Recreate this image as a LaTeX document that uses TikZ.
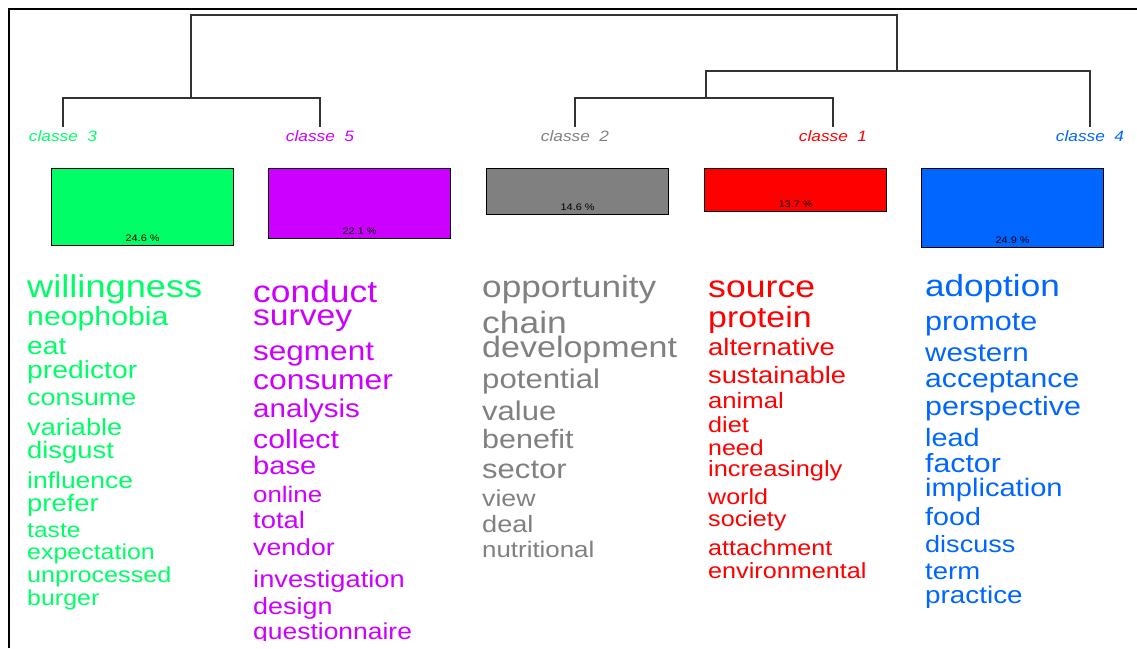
\documentclass[tikz,border=0pt]{standalone}
\usepackage{fontspec}
\usepackage{tikz}
\usetikzlibrary{positioning}
\usepackage{xcolor}
\newfontfamily\cloud{Liberation Sans}[FakeStretch=1.15]
\definecolor{classe1}{HTML}{FF0000}
\definecolor{classe2}{HTML}{808080}
\definecolor{classe3}{HTML}{00FF66}
\definecolor{classe4}{HTML}{0066FF}
\definecolor{classe5}{HTML}{CC00FF}

\begin{document}
\begin{tikzpicture}[
    x=1pt, y=-1pt,
    every node/.style={font=\cloud},
    leaf/.style={anchor=base, inner xsep=0pt, inner ysep=2.5pt, font=\cloud\itshape\fontsize{15}{15}\selectfont},
    box/.style={draw, line width=1.2pt, anchor=north west, minimum width=182pt, inner sep=0pt},
    pct/.style={inner sep=0pt, font=\cloud\fontsize{9.5}{9.5}\selectfont},
    word/.style={anchor=base west, inner sep=0pt},
    line/.style={line width=1.3pt, black!80}
]
\useasboundingbox (0,0) rectangle (1137,648);
\draw[line width=2pt] (9,648) -- (9,9) -- (1137,9);

% classes
\node[leaf, text=classe3] (l3) at (63,141) {classe\ \ 3};
\node[leaf, text=classe5] (l5) at (320,141) {classe\ \ 5};
\node[leaf, text=classe2] (l2) at (575,141) {classe\ \ 2};
\node[leaf, text=classe1] (l1) at (833,141) {classe\ \ 1};
\node[leaf, text=classe4] (l4) at (1090,141) {classe\ \ 4};

% dendrogram
\coordinate (n35) at (191,98);
\coordinate (n21) at (706,98);
\coordinate (n214) at (897,71);
\coordinate (root) at (544,15);
\draw[line] (l3.north) |- (n35) -| (l5.north);
\draw[line] (l2.north) |- (n21) -| (l1.north);
\draw[line] (n21) |- (n214) -| (l4.north);
\draw[line] (n35) |- (root) -| (n214);

% sizes
\node[box, fill=classe3, minimum height=77pt] (b3) at (51,168) {};
\node[box, fill=classe5, minimum height=70pt] (b5) at (268,168) {};
\node[box, fill=classe2, minimum height=46pt] (b2) at (486,168) {};
\node[box, fill=classe1, minimum height=43pt] (b1) at (704,168) {};
\node[box, fill=classe4, minimum height=79pt] (b4) at (921,168) {};
\node[pct, above=4pt of b3.south] (p3) {24.6 \%};
\node[pct, above=4pt of b5.south] (p5) {22.1 \%};
\node[pct, above=4pt of b2.south] (p2) {14.6 \%};
\node[pct, above=4pt of b1.south] (p1) {13.7 \%};
\node[pct, above=4pt of b4.south] (p4) {24.9 \%};

% words
\begin{scope}
\clip (0,0) rectangle (1137,640);
\foreach \t/\s/\y [count=\i] in {willingness/31.5/297, neophobia/26.3/325, eat/24.5/354,
    predictor/24.6/378, consume/23.4/405, variable/23.6/435, disgust/23.8/458,
    influence/23.0/488, prefer/23.8/511, taste/21.4/537, expectation/21.7/559,
    unprocessed/21.9/582, burger/21.7/605}
  \node[word, text=classe3, font=\cloud\fontsize{\s}{\s}\selectfont] (w3-\i) at (27,\y) {\t};
\foreach \t/\s/\y [count=\i] in {conduct/30.8/302, survey/29.2/325, segment/27.4/360,
    consumer/27.7/389, analysis/25.7/417, collect/26.3/448, base/25.3/474,
    online/22.5/502, total/23.8/528, vendor/23.2/555, investigation/23.7/587,
    design/23.4/614, questionnaire/23.0/639}
  \node[word, text=classe5, font=\cloud\fontsize{\s}{\s}\selectfont] (w5-\i) at (253,\y) {\t};
\foreach \t/\s/\y [count=\i] in {opportunity/30.6/297, chain/30.8/333, development/29.6/357,
    potential/27.1/388, value/27.0/420, benefit/26.5/448, sector/27.0/478,
    view/23.2/506, deal/23.6/532, nutritional/22.5/557}
  \node[word, text=classe2, font=\cloud\fontsize{\s}{\s}\selectfont] (w2-\i) at (482,\y) {\t};
\foreach \t/\s/\y [count=\i] in {source/31.0/297, protein/29.4/327, alternative/23.9/355,
    sustainable/23.7/383, animal/22.3/408, diet/21.9/432, need/21.7/455,
    increasingly/22.1/476, world/21.8/504, society/21.9/526, attachment/21.8/555,
    environmental/21.9/578}
  \node[word, text=classe1, font=\cloud\fontsize{\s}{\s}\selectfont] (w1-\i) at (708,\y) {\t};
\foreach \t/\s/\y [count=\i] in {adoption/30.5/296, promote/26.6/330, western/25.7/361,
    acceptance/26.2/387, perspective/26.5/415, lead/25.1/446, factor/26.3/472,
    implication/25.3/496, food/24.9/525, discuss/23.5/552, term/23.9/579,
    practice/24.2/603}
  \node[word, text=classe4, font=\cloud\fontsize{\s}{\s}\selectfont] (w4-\i) at (925,\y) {\t};
\end{scope}
\end{tikzpicture}
\end{document}
